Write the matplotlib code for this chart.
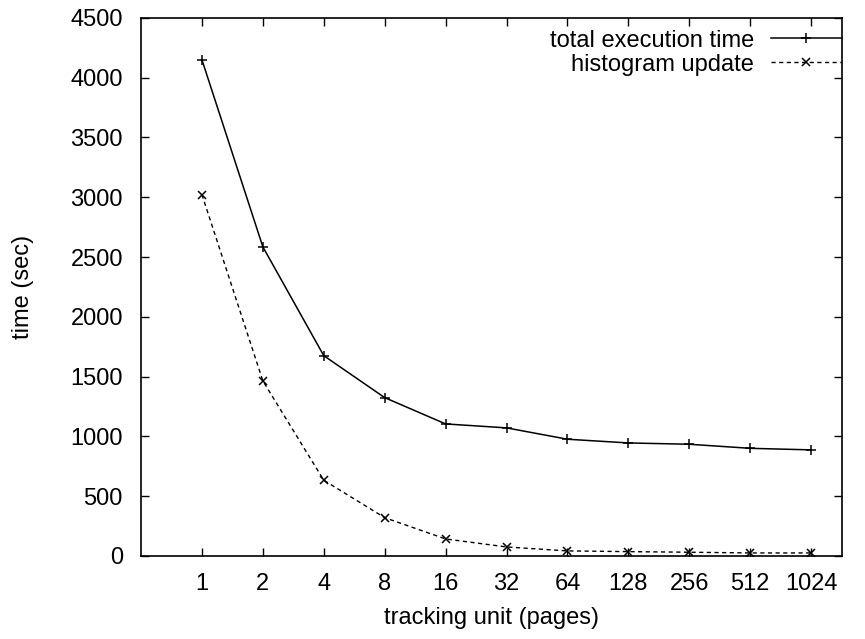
import numpy as np
import matplotlib.pyplot as plt

plt.rcParams['font.family'] = ['Liberation Sans', 'DejaVu Sans']

# tracking unit (pages) and measured times
units = ["1", "2", "4", "8", "16", "32", "64", "128", "256", "512", "1024"]
total_time = [4150, 2585, 1675, 1324, 1104, 1071, 976, 945, 934, 900, 887]
hist_update = [3022, 1464, 633, 320, 142, 75, 42, 36, 31, 25, 25]

x = np.arange(1, len(units) + 1)

fig = plt.figure(figsize=(8.65, 6.39), dpi=100)
ax = fig.add_axes([0.163, 0.130, 0.81, 0.842])

ax.plot(x, total_time, color='black', linewidth=1.1, marker='+',
        markersize=7, markeredgewidth=1.1, label='total execution time')
ax.plot(x, hist_update, color='black', linewidth=1.0, linestyle=(0, (3, 2.5)),
        marker='x', markersize=5.5, markeredgewidth=1.1, label='histogram update')

ax.set_xlim(0, len(units) + 0.5)
ax.set_ylim(0, 4500)
ax.set_xticks(x)
ax.set_xticklabels(units)
ax.set_yticks(np.arange(0, 4501, 500))

ax.tick_params(direction='in', top=True, right=True, labelsize=17,
               length=6, width=1)
ax.tick_params(axis='x', pad=12)
ax.tick_params(axis='y', pad=13)
for s in ax.spines.values():
    s.set_linewidth(1.2)

ax.set_xlabel("tracking unit (pages)", fontsize=17, labelpad=9)
ax.set_ylabel("time (sec)", fontsize=17, labelpad=26)

ax.legend(loc='upper right', bbox_to_anchor=(1.0, 0.978), frameon=False,
          markerfirst=False, fontsize=17, handlelength=3.0,
          handletextpad=0.7, borderaxespad=0.0, borderpad=0.0,
          labelspacing=0.08)

fig.savefig("out.png", dpi=100)
